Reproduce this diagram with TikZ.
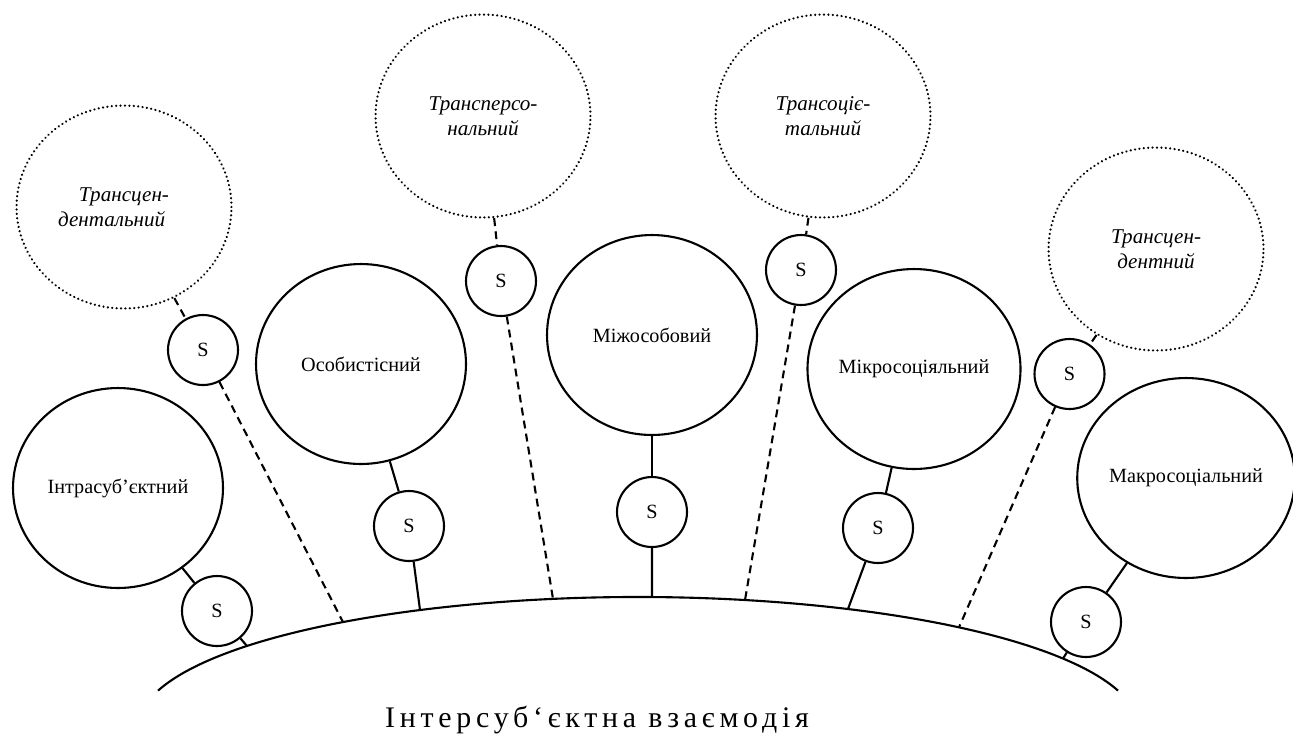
\documentclass[tikz,border=0pt]{standalone}
\usepackage{fontspec}
\setmainfont{Liberation Serif}
\newfontfamily\titlefont[LetterSpace=16]{Liberation Serif}
\usetikzlibrary{shapes.geometric}
\usetikzlibrary{calc}
\tikzset{
  sphere/.style={draw, ellipse, line width=1.2pt, minimum width=4.2cm, minimum height=4cm, inner sep=0pt, font=\fontsize{11.5}{14}\selectfont},
  transsphere/.style={draw, ellipse, line width=1.4pt, line cap=round, dash pattern=on 0.01pt off 2.5pt, minimum width=4.3cm, minimum height=4.06cm, inner sep=0pt, align=center, font=\fontsize{12}{14}\selectfont\itshape},
  subj/.style={draw, circle, line width=1.2pt, minimum size=1.4cm, inner sep=0pt, font=\fontsize{11.5}{14}\selectfont},
  tie/.style={line width=1.2pt},
  dashtie/.style={line width=1.2pt, dash pattern=on 4.5pt off 3pt}
}

\begin{document}
\begin{tikzpicture}[x=0.02cm, y=0.02cm]
		\useasboundingbox (0,0) rectangle (1293,-745);
		
		% ground of the interaction
		\coordinate (ground) at (638,-727);
		\draw[tie] (ground) ++(163.74:500 and 130) arc[start angle=163.74, end angle=16.26, x radius=500, y radius=130];
		\coordinate (g1) at ($(ground)+(141.45:500 and 130)$);
		\coordinate (g2) at ($(ground)+(126.16:500 and 130)$);
		\coordinate (g3) at ($(ground)+(115.85:500 and 130)$);
		\coordinate (g4) at ($(ground)+(99.79:500 and 130)$);
		\coordinate (g5) at ($(ground)+(88.40:500 and 130)$);
		\coordinate (g6) at ($(ground)+(77.64:500 and 130)$);
		\coordinate (g7) at ($(ground)+(65.17:500 and 130)$);
		\coordinate (g8) at ($(ground)+(50.06:500 and 130)$);
		\coordinate (g9) at ($(ground)+(31.79:500 and 130)$);
		
		\node[transsphere] (tdent) at (124,-207) {Трансцен-\\дентальний\hspace*{14pt}};
		\node[transsphere] (tpers) at (483,-116) {Трансперсо-\\нальний};
		\node[transsphere] (tsoc) at (823,-116) {Трансоціє-\\тальний};
		\node[transsphere] (tdentn) at (1156,-249) {Трансцен-\\дентний};
		
		\node[sphere] (intra) at (118,-488) {Інтрасуб’єктний};
		\node[sphere] (pers) at (361,-364) {Особистісний};
		\node[sphere] (inter) at (652,-335) {Міжособовий};
		\node[sphere] (micro) at (914,-369) {Мікросоціяльний};
		\node[sphere] (macro) at (1186,-478) {Макросоціальний};
		
		\node[subj] (s1) at (203,-350) {S};
		\node[subj] (s2) at (501,-281) {S};
		\node[subj] (s3) at (801,-270) {S};
		\node[subj] (s4) at (1069.5,-374) {S};
		\node[subj] (s5) at (217,-611) {S};
		\node[subj] (s6) at (409,-526) {S};
		\node[subj] (s7) at (652,-512) {S};
		\node[subj] (s8) at (878,-528) {S};
		\node[subj] (s9) at (1086,-622) {S};
		
		\draw[dashtie] (tdent) -- (s1);
		\draw[dashtie] (s1) -- (g2);
		\draw[dashtie] (tpers) -- (s2);
		\draw[dashtie] (s2) -- (g4);
		\draw[dashtie] (tsoc) -- (s3);
		\draw[dashtie] (s3) -- (g6);
		\draw[dashtie] (tdentn) -- (s4);
		\draw[dashtie] (s4) -- (g8);
		
		\draw[tie] (intra) -- (s5);
		\draw[tie] (s5) -- (g1);
		\draw[tie] (pers) -- (s6);
		\draw[tie] (s6) -- (g3);
		\draw[tie] (inter) -- (s7);
		\draw[tie] (s7) -- (g5);
		\draw[tie] (micro) -- (s8);
		\draw[tie] (s8) -- (g7);
		\draw[tie] (macro) -- (s9);
		\draw[tie] (s9) -- (g9);
		
		\node[font=\fontsize{17}{20}\selectfont\titlefont] (title) at (597,-720) {Інтерсуб‘єктна взаємодія};
\end{tikzpicture}
\end{document}
